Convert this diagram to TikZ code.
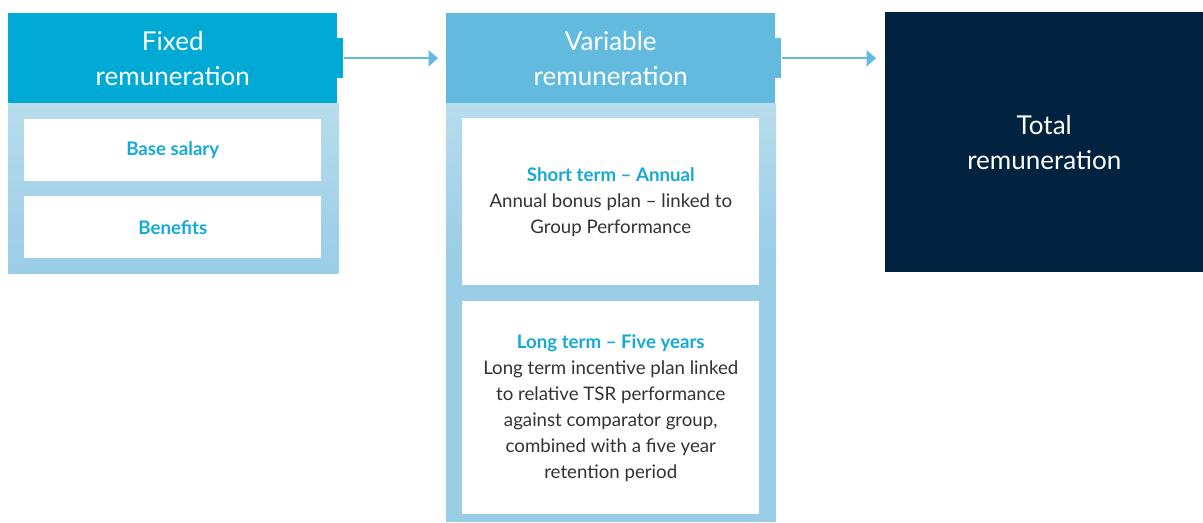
\documentclass[tikz,border=0pt]{standalone}
\usepackage{fontspec}
\setmainfont{Lato}
\usetikzlibrary{arrows.meta}
\definecolor{fixedblue}{HTML}{00AAD5}
\definecolor{varblue}{HTML}{62BBDF}
\definecolor{paleblue}{HTML}{B7DCED}
\definecolor{bodyblue}{HTML}{99CDE6}
\definecolor{navy}{HTML}{012340}
\definecolor{titleblue}{HTML}{15AAD6}
\definecolor{bodytext}{HTML}{333333}
\tikzset{
  block/.style={rectangle, inner sep=0pt, anchor=north west},
  head/.style={block, fill=#1, text=white, align=center,
    font=\fontsize{19.5}{26}\selectfont},
  card/.style={block, fill=white, text=bodytext, align=center,
    font=\fontsize{14}{19.5}\selectfont},
  flow/.style={draw=varblue, line width=1.5pt,
    -{Triangle[length=7pt,width=12pt]}}
}
\newcommand{\cardtitle}[1]{{\color{titleblue}\bfseries #1}}
\begin{document}
\begin{tikzpicture}[x=0.75pt, y=-0.75pt]
  \useasboundingbox (0,0) rectangle (1203,522);
  % fixed remuneration
  \node[block, shading=axis, top color=paleblue, bottom color=bodyblue,
    minimum width=247.5pt, minimum height=127.5pt] (fixbody) at (8,103) {};
  \node[head=fixedblue, minimum width=246.75pt, minimum height=67.5pt]
    (fixhead) at (8,13) {Fixed\\remuneration};
  \node[block, fill=fixedblue, minimum width=4.5pt, minimum height=30pt]
    (fixtab) at (337,38) {};
  \node[card, minimum width=222.75pt, minimum height=46.5pt]
    (base) at (24,119) {\cardtitle{Base salary}};
  \node[card, minimum width=222.75pt, minimum height=46.5pt]
    (benefits) at (24,196) {\cardtitle{Benefits}};
  % variable remuneration
  \node[block, fill=bodyblue, minimum width=247.5pt, minimum height=314.25pt]
    (varbody) at (446,103) {};
  \shade[top color=paleblue, bottom color=bodyblue] (446,103) rectangle (776,260);
  \node[head=varblue, minimum width=246.75pt, minimum height=67.5pt]
    (varhead) at (446,13) {Variable\\remuneration};
  \node[block, fill=varblue, minimum width=4.5pt, minimum height=30pt]
    (vartab) at (775,38) {};
  \node[card, minimum width=222.75pt, minimum height=125.25pt]
    (short) at (462,118) {\cardtitle{Short term -- Annual}\\
      Annual bonus plan -- linked to\\Group Performance};
  \node[card, minimum width=222.75pt, minimum height=159.75pt]
    (long) at (462,301) {\cardtitle{Long term -- Five years}\\
      Long term incentive plan linked\\to relative TSR performance\\
      against comparator group,\\combined with a five year\\retention period};
  % total
  \node[head=navy, minimum width=238.5pt, minimum height=195pt]
    (total) at (885,12) {Total\\remuneration};
  \coordinate (totin) at ([xshift=-6.75pt]total.north west |- vartab.east);
  \draw[flow] (fixtab.east) -- ([xshift=-6pt]varhead.west);
  \draw[flow] (vartab.east) -- (totin);
\end{tikzpicture}
\end{document}
